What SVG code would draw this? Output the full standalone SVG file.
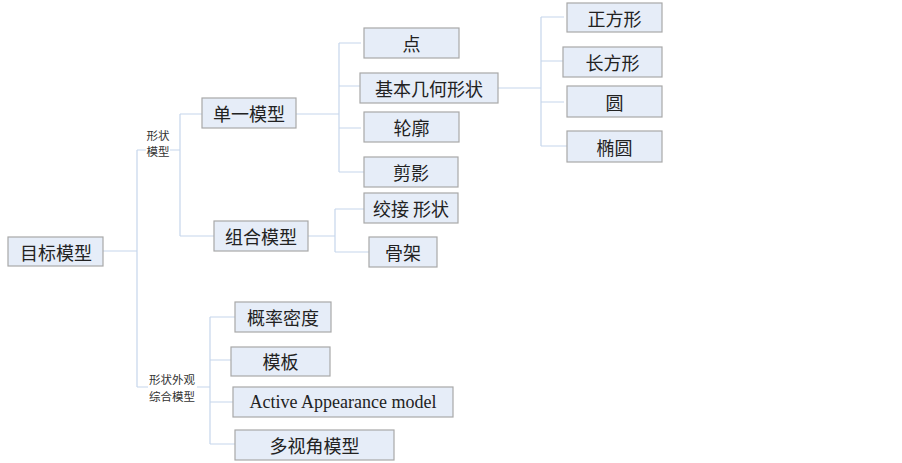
<svg xmlns="http://www.w3.org/2000/svg" width="902" height="463" viewBox="0 0 902 463">
<style>
.box{fill:#e6edf8;stroke:#a8a8a8;stroke-width:1.2}
.t{font-family:"Noto Sans CJK SC","Liberation Serif",serif;font-size:18px;fill:#222;text-anchor:middle;dominant-baseline:central}
.lat{font-family:"Liberation Serif","Noto Sans CJK SC",serif;font-size:18px;fill:#222;text-anchor:middle;dominant-baseline:central}
.s{font-family:"Noto Sans CJK SC",sans-serif;font-size:11.5px;fill:#333;text-anchor:middle;dominant-baseline:central}
.ln{fill:none;stroke:#c6d6ec;stroke-width:1.2}
</style>
<rect width="902" height="463" fill="#fff"/>
<g id="connectors">
<path class="ln" d="M103 251H137M137 150V387M137 150H146M137 387H148"/>
<path class="ln" d="M170 150H180M180 114V236M180 114H202M180 236H214"/>
<path class="ln" d="M296 114H339M339 43V172M339 43H361M339 86H360M339 128H361M339 172H364"/>
<path class="ln" d="M498 88H541M541 17V146M541 17H564M541 61H563M541 102H564M541 146H567"/>
<path class="ln" d="M308 236H335M335 209V252M335 209H364M335 252H369"/>
<path class="ln" d="M197 387H210M210 317V444M210 317H235M210 360H231M210 402H233M210 444H235"/>
</g>
<g id="n-root"><rect class="box" x="8" y="237" width="95" height="29"/><text class="t" x="56" y="251.5">目标模型</text></g>
<g id="n-shape"><text class="s" x="158" y="135">形状</text><text class="s" x="158" y="151">模型</text></g>
<g id="n-sa"><text class="s" x="172" y="379">形状外观</text><text class="s" x="172" y="396">综合模型</text></g>
<g id="n-single"><rect class="box" x="202" y="98" width="94" height="30"/><text class="t" x="249" y="113">单一模型</text></g>
<g id="n-combo"><rect class="box" x="214" y="221" width="94" height="30"/><text class="t" x="261" y="236">组合模型</text></g>
<g id="n-point"><rect class="box" x="364" y="28" width="95" height="30"/><text class="t" x="411.5" y="43">点</text></g>
<g id="n-basic"><rect class="box" x="360" y="73" width="138" height="30"/><text class="t" x="429" y="88">基本几何形状</text></g>
<g id="n-contour"><rect class="box" x="364" y="112" width="95" height="30"/><text class="t" x="411.5" y="127">轮廓</text></g>
<g id="n-silh"><rect class="box" x="364" y="157" width="94" height="30"/><text class="t" x="411" y="172">剪影</text></g>
<g id="n-square"><rect class="box" x="567" y="3" width="95" height="29"/><text class="t" x="614.5" y="17.5">正方形</text></g>
<g id="n-rect"><rect class="box" x="563" y="47" width="99" height="30"/><text class="t" x="612.5" y="62">长方形</text></g>
<g id="n-circle"><rect class="box" x="567" y="86" width="95" height="31"/><text class="t" x="614.5" y="101.5">圆</text></g>
<g id="n-ellipse"><rect class="box" x="567" y="131" width="95" height="31"/><text class="t" x="614.5" y="146.5">椭圆</text></g>
<g id="n-hinge"><rect class="box" x="364" y="193" width="94" height="30"/><text class="t" x="411" y="208">绞接 形状</text></g>
<g id="n-skel"><rect class="box" x="369" y="237" width="68" height="30"/><text class="t" x="403" y="252">骨架</text></g>
<g id="n-prob"><rect class="box" x="235" y="302" width="96" height="30"/><text class="t" x="283" y="317">概率密度</text></g>
<g id="n-tmpl"><rect class="box" x="231" y="347" width="99" height="29"/><text class="t" x="280.5" y="361">模板</text></g>
<g id="n-aam"><rect class="box" x="233" y="387" width="220" height="30"/><text class="lat" x="343" y="402">Active Appearance model</text></g>
<g id="n-multi"><rect class="box" x="235" y="430" width="159" height="30"/><text class="t" x="314.5" y="445">多视角模型</text></g>
</svg>
